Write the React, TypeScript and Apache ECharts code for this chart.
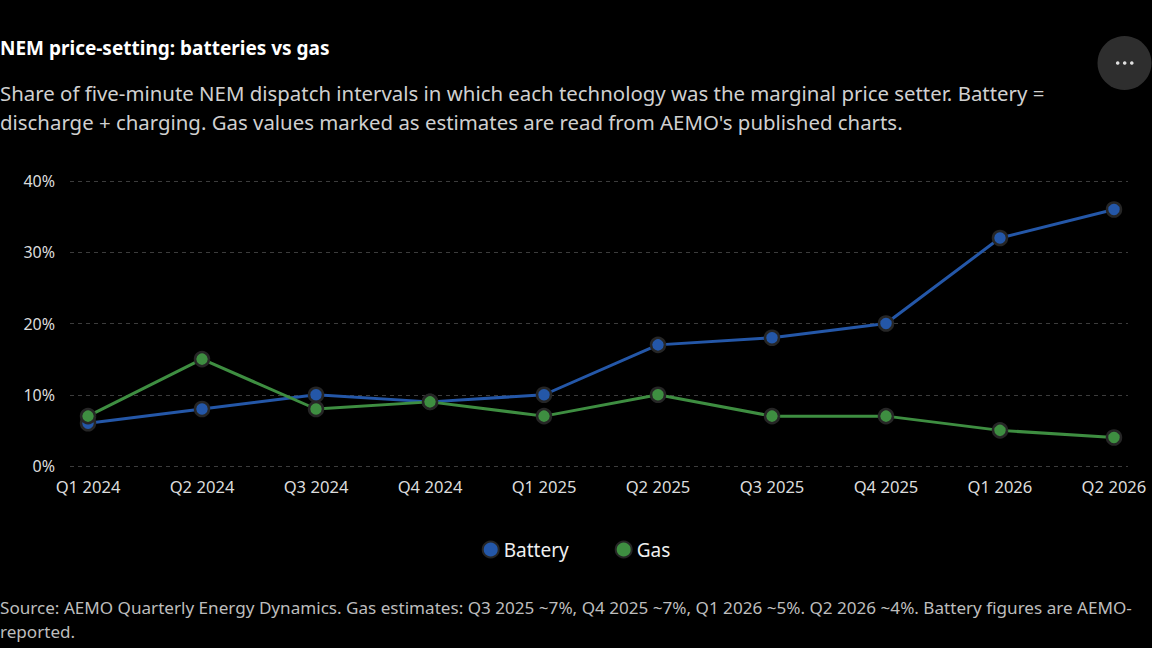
import React, { useEffect, useRef } from 'react';
import * as echarts from 'echarts';

const quarters = ['Q1 2024', 'Q2 2024', 'Q3 2024', 'Q4 2024', 'Q1 2025', 'Q2 2025', 'Q3 2025', 'Q4 2025', 'Q1 2026', 'Q2 2026'];
const battery = [6, 8, 10, 9, 10, 17, 18, 20, 32, 36];
const gas = [7, 15, 8, 9, 7, 10, 7, 7, 5, 4];
const yTicks = [0, 10, 20, 30, 40];

const FONT = '"Noto Sans", "Open Sans", sans-serif';
const BLUE = '#2457a8';
const GREEN = '#3e8e41';

const App: React.FC = () => {
  const chartRef = useRef<HTMLDivElement>(null);

  useEffect(() => {
    if (!chartRef.current) return;
    const chart = echarts.init(chartRef.current, null, { renderer: 'svg' });

    const marker = (color: string) => ({
      color,
      borderColor: '#262626',
      borderWidth: 2.5
    });

    const option = {
      animation: false,
      backgroundColor: '#000',
      textStyle: { fontFamily: FONT },
      title: [
        {
          text: 'NEM price-setting: batteries vs gas',
          left: 0,
          top: 38,
          padding: 0,
          textStyle: { color: '#fff', fontSize: 19, fontWeight: 'bold', fontFamily: FONT }
        },
        {
          text: 'Share of five-minute NEM dispatch intervals in which each technology was the marginal price setter. Battery =\ndischarge + charging. Gas values marked as estimates are read from AEMO\'s published charts.',
          left: 0,
          top: 78,
          padding: 0,
          textStyle: { color: '#d0d0d0', fontSize: 20.4, fontWeight: 'normal', lineHeight: 29, fontFamily: FONT }
        },
        {
          text: 'Source: AEMO Quarterly Energy Dynamics. Gas estimates: Q3 2025 ~7%, Q4 2025 ~7%, Q1 2026 ~5%. Q2 2026 ~4%. Battery figures are AEMO-\nreported.',
          left: 0,
          top: 595,
          padding: 0,
          textStyle: { color: '#bdbdbd', fontSize: 17.1, fontWeight: 'normal', lineHeight: 24, fontFamily: FONT }
        }
      ],
      graphic: [
        { type: 'circle', shape: { cx: 1124.5, cy: 63, r: 27 }, style: { fill: '#2e2e2e' } },
        { type: 'circle', shape: { cx: 1117.7, cy: 63, r: 1.8 }, style: { fill: '#e0e0e0' } },
        { type: 'circle', shape: { cx: 1124.7, cy: 63, r: 1.8 }, style: { fill: '#e0e0e0' } },
        { type: 'circle', shape: { cx: 1131.8, cy: 63, r: 1.8 }, style: { fill: '#e0e0e0' } }
      ],
      legend: {
        data: ['Battery', 'Gas'],
        bottom: 84,
        left: 'center',
        icon: 'circle',
        itemWidth: 16,
        itemHeight: 16,
        itemGap: 46,
        textStyle: { color: '#f0f0f0', fontSize: 19, fontFamily: FONT }
      },
      grid: {
        left: 70,
        right: 24,
        top: 181,
        bottom: 182
      },
      xAxis: {
        type: 'value',
        min: -0.158,
        max: 9.123,
        axisLine: { show: false },
        axisTick: { show: false },
        splitLine: { show: false },
        axisLabel: {
          customValues: quarters.map((_, i) => i),
          formatter: (v: number) => quarters[Math.round(v)] ?? '',
          color: '#dcdcdc',
          fontSize: 16.6,
          margin: 12,
          fontFamily: FONT
        }
      },
      yAxis: {
        type: 'value',
        min: yTicks[0],
        max: yTicks[yTicks.length - 1],
        interval: 10,
        axisLine: { show: false },
        axisTick: { show: false },
        axisLabel: {
          formatter: '{value}%',
          color: '#dcdcdc',
          fontSize: 16,
          margin: 15,
          fontFamily: FONT
        },
        splitLine: {
          lineStyle: { color: '#3c3c3c', type: [4, 4], width: 1 }
        }
      },
      series: [
        {
          name: 'Battery',
          type: 'line',
          data: battery.map((v, i) => [i, v]),
          symbol: 'circle',
          symbolSize: 14,
          lineStyle: { color: BLUE, width: 3 },
          itemStyle: marker(BLUE),
          z: 2
        },
        {
          name: 'Gas',
          type: 'line',
          data: gas.map((v, i) => [i, v]),
          symbol: 'circle',
          symbolSize: 14,
          lineStyle: { color: GREEN, width: 3 },
          itemStyle: marker(GREEN),
          z: 3
        }
      ]
    };

    chart.setOption(option);
    return () => {
      chart.dispose();
    };
  }, []);

  return (
    <div style={{ position: 'fixed', left: 0, top: 0, width: '100vw', height: '100vh', background: '#000' }}>
      <div ref={chartRef} style={{ width: 1152, height: 648 }} />
    </div>
  );
};

export default App;
